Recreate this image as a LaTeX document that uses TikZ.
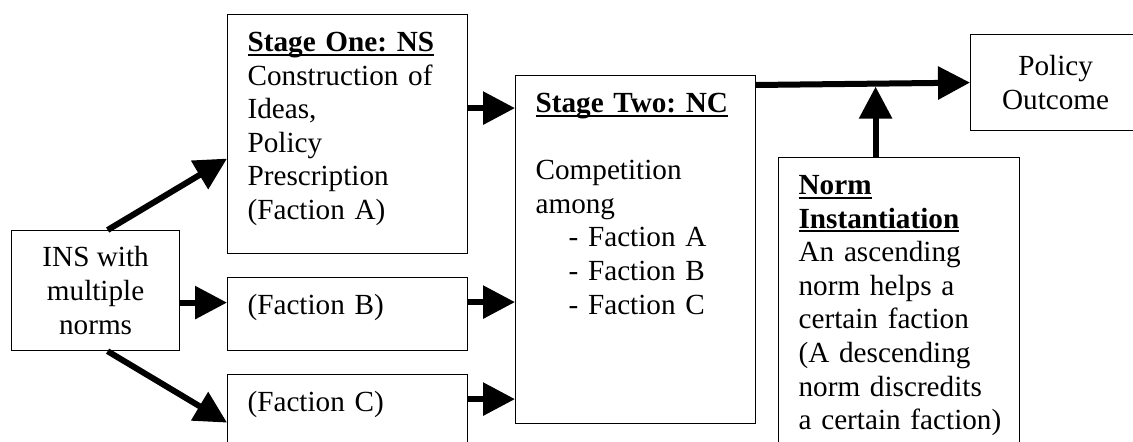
\documentclass[tikz,border=0pt]{standalone}
\usepackage{fontspec}
\setmainfont{Liberation Serif}
\usepackage{tikz}
\usetikzlibrary{arrows.meta, positioning}

\newcommand{\ulbold}[1]{\leavevmode\setbox0=\hbox{\textbf{#1}}\rlap{\rule[-2pt]{\wd0}{1pt}}\box0}
\frenchspacing

\begin{document}
\begin{tikzpicture}[
    x=0.5pt, y=-0.5pt,
    stagebox/.style={rectangle, draw, line width=0.6pt, anchor=north west, align=left, inner xsep=10pt, inner ysep=8.5pt, text height=10pt, font=\fontsize{14.6}{16.8}\selectfont},
    plainbox/.style={rectangle, draw, line width=0.6pt, anchor=north west, align=center, font=\fontsize{14.6}{16.8}\selectfont},
    arrow/.style={-{Triangle[length=16pt, width=16pt]}, line width=3pt}
]
\useasboundingbox (0,0) rectangle (1133,442);

\node[plainbox, minimum width=84pt, minimum height=60pt] (ins) at (11,230) {INS with\\multiple\\norms};
\node[stagebox, text width=100pt, text depth=92.5pt] (stageone) at (227,14) {\ulbold{Stage One: NS}\\Construction of\\Ideas,\\Policy\\Prescription\\(Faction A)};
\node[stagebox, text width=100pt, text depth=9.5pt] (factb) at (227,277) {(Faction B)};
\node[stagebox, text width=100pt, text depth=9.5pt] (factc) at (227,374) {(Faction C)};
\node[stagebox, text width=100pt, text depth=147pt] (stagetwo) at (515,75) {\ulbold{Stage Two: NC}\\[16.8pt]Competition\\among\\\hspace*{16.5pt}- Faction A\\\hspace*{16.5pt}- Faction B\\\hspace*{16.5pt}- Faction C};
\node[stagebox, text width=100.5pt, text depth=120.5pt] (norm) at (778,157) {\ulbold{Norm}\\\ulbold{Instantiation}\\An ascending\\norm helps a\\certain faction\\(A descending\\norm discredits\\\mbox{a certain faction)}};
\node[plainbox, minimum width=85pt, minimum height=48pt] (outcome) at (970,34) {Policy\\Outcome};

\draw[arrow] ([xshift=6pt]ins.north) -- ([yshift=-12.25pt]stageone.west);
\draw[arrow] ([yshift=-6pt]ins.east) -- ([yshift=-6pt]ins.east -| factb.west);
\draw[arrow] ([xshift=6pt]ins.south) -- ([yshift=-5.75pt]factc.west);
\draw[arrow] ([yshift=13pt]stageone.east) -- ([yshift=13pt]stageone.east -| stagetwo.west);
\draw[arrow] ([yshift=6pt]factb.east) -- ([yshift=6pt]factb.east -| stagetwo.west);
\draw[arrow] ([yshift=6pt]factc.east) -- ([yshift=6pt]factc.east -| stagetwo.west);
\draw[arrow] ([yshift=-5pt]stagetwo.north east) -- coordinate[pos=0.56] (join) (outcome.west);
\draw[arrow, shorten >=1.5pt] ([xshift=-11.75pt]norm.north) -- ([xshift=-11.75pt]norm.north |- join);

\end{tikzpicture}
\end{document}
